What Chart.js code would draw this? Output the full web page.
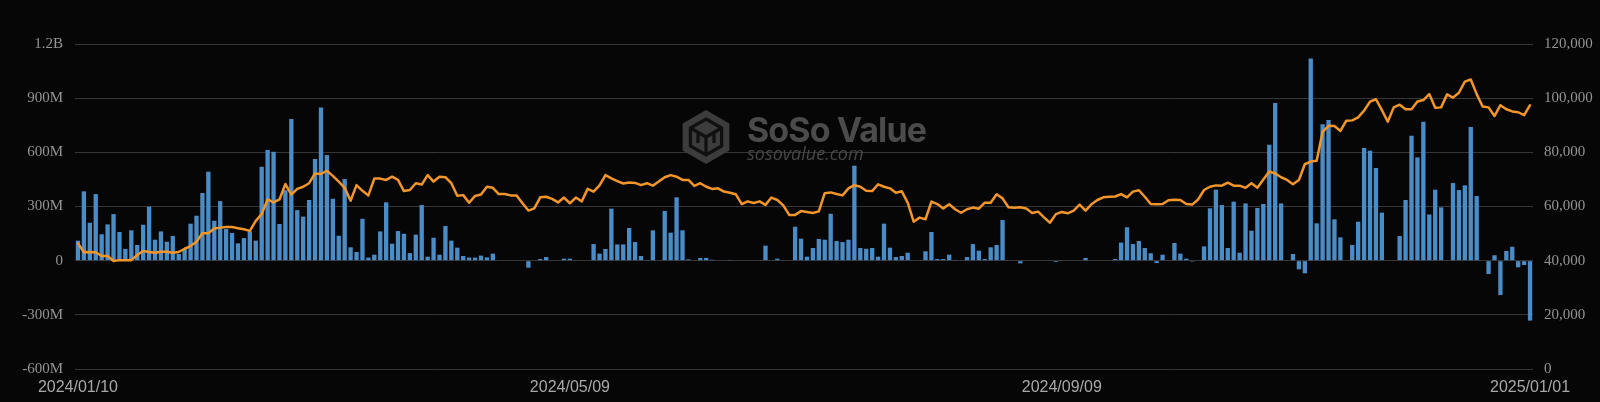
<!DOCTYPE html>
<html><head><meta charset="utf-8">
<script src="https://cdn.jsdelivr.net/npm/chart.js@4.4.1/dist/chart.umd.min.js"></script>
<style>
html,body{margin:0;padding:0;background:#060606;}
#wrap{position:relative;width:1600px;height:402px;background:#060606;}
canvas{display:block;}
</style></head><body>
<div id="wrap"><canvas id="c" width="1600" height="402"></canvas></div>
<script>
// Daily net inflow (US$ millions), one value per trading day
const flows = [
111,384,210,369,146,201,258,159,65,168,
87,199,299,116,162,105,137,37,65,205,
249,375,493,221,330,175,153,96,125,162,
111,520,613,603,203,390,785,280,244,336,
563,849,585,343,138,452,74,48,232,17,
33,162,323,94,164,149,42,144,308,22,
127,33,192,111,72,26,17,17,28,18,
39,0,0,0,0,0,-39,0,9,20,
0,0,11,11,0,0,0,92,39,65,
288,90,90,181,103,26,4,168,0,275,
155,351,168,7,0,15,15,5,0,0,
4,0,0,0,0,0,83,0,11,0,
0,188,122,22,70,120,116,260,109,103,
116,526,70,66,70,22,205,72,20,26,
44,0,0,52,159,9,9,33,4,0,
20,92,55,9,74,87,225,0,0,-15,
0,0,0,0,0,-7,0,0,0,0,
15,0,0,0,0,9,100,185,92,109,
70,41,-13,33,0,98,39,11,-5,0,
79,290,393,308,70,327,44,317,166,292,
314,642,873,317,0,37,-48,-70,1120,207,
756,779,229,129,0,87,216,624,609,513,
266,0,0,137,336,692,572,769,256,393,
295,0,430,391,417,740,358,0,-74,30,
-190,54,77,-37,-24,-332
];
// BTC price (US$)
const prices = [
46400,43100,43200,43100,41700,41700,39900,40200,40200,40200,
42100,43600,43200,42900,43300,43300,42900,43200,44400,45400,
47000,50100,50100,51900,52200,52400,52400,52000,51600,51000,
54700,57200,62600,61500,62600,68300,64400,66500,67300,68600,
72200,72000,73200,71300,69200,66900,62100,67900,65800,64100,
70300,70300,69800,71000,69800,65700,66100,68600,68100,71600,
69200,71000,70800,68600,64000,64200,61400,63900,64400,67300,
66900,64600,64600,64100,64100,61200,58500,59300,63400,63600,
62800,61500,63300,61200,63300,61900,66500,65500,67800,71600,
70400,69400,68500,68900,68700,67900,68600,67700,69200,70800,
71600,71000,69800,69800,67600,68600,67300,66500,66700,65500,
65100,64500,60900,61900,61300,61900,60600,63300,62400,60400,
56900,56900,58300,58000,57600,58200,64900,65200,64600,64100,
66700,67900,67300,65800,65700,68200,67300,66700,65100,65600,
61400,54400,55900,55300,61800,60900,59300,60800,59000,57700,
59000,59600,59200,61400,61400,64500,63000,59700,59500,59700,
59300,57600,58100,56000,54000,57200,58000,57500,58500,60700,
58500,60800,62400,63400,63600,63700,64600,63400,65500,66000,
63600,60900,60800,60900,62300,62500,62400,60900,60700,62600,
66100,67300,67800,67700,68800,67700,67700,66900,68600,66900,
70000,72900,72200,70800,69800,68200,69800,75600,76600,76900,
87600,89800,89700,87900,91700,91800,92900,95400,98700,99600,
95600,91300,96600,97600,95900,95900,98800,99300,101500,96500,
96600,101400,100200,102000,106100,106900,101500,96900,96600,93400,
97400,95900,95100,94800,93700,97400
];
// x-axis tick labels shown and the category positions they sit at
const tickIndex = [0, 83, 166, 245];
const tickLabels = ['2024/01/10', '2024/05/09', '2024/09/09', '2025/01/01'];
const holidays = ['2024-01-15','2024-02-19','2024-03-29','2024-05-27','2024-06-19','2024-07-04','2024-09-02','2024-11-28','2024-12-25'];

// categories: trading days from the first date
const categories = [];
{
  const d = new Date(Date.UTC(2024, 0, 10));
  while (categories.length < flows.length) {
    const iso = d.toISOString().slice(0, 10);
    const wd = d.getUTCDay();
    if (wd !== 0 && wd !== 6 && !holidays.includes(iso)) categories.push(iso.replace(/-/g, '/'));
    d.setUTCDate(d.getUTCDate() + 1);
  }
}

function fmtFlow(v) {
  if (v === 0) return '0';
  if (Math.abs(v) >= 1000) return (v / 1000) + 'B';
  return v + 'M';
}

const watermark = {
  id: 'watermark',
  beforeDatasetsDraw(chart) {
    const ctx = chart.ctx;
    ctx.save();
    const cx = 706, cy = 137, r = 27;
    const hex = (rad) => {
      ctx.beginPath();
      for (let i = 0; i < 6; i++) {
        const a = Math.PI / 180 * (60 * i - 90);
        const px = cx + rad * Math.cos(a), py = cy + rad * Math.sin(a);
        if (i) ctx.lineTo(px, py); else ctx.moveTo(px, py);
      }
      ctx.closePath();
    };
    hex(r); ctx.fillStyle = '#3c3c3c'; ctx.fill();
    ctx.strokeStyle = '#101010'; ctx.lineWidth = 3.2; ctx.lineJoin = 'miter';
    hex(18); ctx.stroke();
    ctx.beginPath();
    ctx.moveTo(cx, cy); ctx.lineTo(cx, cy + 18);
    ctx.moveTo(cx, cy); ctx.lineTo(cx - 15.6, cy - 9);
    ctx.moveTo(cx, cy); ctx.lineTo(cx + 15.6, cy - 9);
    ctx.moveTo(cx - 8, cy - 4.5); ctx.lineTo(cx - 8, cy + 6);
    ctx.moveTo(cx + 8, cy - 4.5); ctx.lineTo(cx + 8, cy + 6);
    ctx.stroke();
    ctx.fillStyle = '#4b4b4b';
    ctx.textBaseline = 'alphabetic';
    ctx.textAlign = 'left';
    ctx.font = 'bold 34px Inter';
    const w = ctx.measureText('SoSo Value').width;
    try { ctx.letterSpacing = ((179 - w) / 10).toFixed(2) + 'px'; } catch (e) {}
    ctx.fillText('SoSo Value', 747, 141.5);
    try { ctx.letterSpacing = '0px'; } catch (e) {}
    ctx.fillStyle = '#474747';
    ctx.font = 'italic 18px "Open Sans"';
    ctx.fillText('sosovalue.com', 747, 160);
    ctx.restore();
  }
};

new Chart(document.getElementById('c'), {
  data: {
    labels: categories,
    datasets: [
      {
        type: 'line', label: 'BTC Price', data: prices, yAxisID: 'y1',
        borderColor: '#f2952b', borderWidth: 2.5, pointRadius: 0, tension: 0, order: 0,
        borderJoinStyle: 'round', borderCapStyle: 'round'
      },
      {
        type: 'bar', label: 'Daily Total Net Inflow', data: flows, yAxisID: 'y',
        backgroundColor: '#4a8cc6', borderWidth: 0, categoryPercentage: 1, barPercentage: 0.73, order: 1
      }
    ]
  },
  plugins: [watermark],
  options: {
    responsive: false, animation: false, devicePixelRatio: 1,
    layout: { padding: { top: 44, left: 0, right: 0, bottom: 0 } },
    plugins: { legend: { display: false }, tooltip: { enabled: false } },
    scales: {
      x: {
        type: 'category', offset: true,
        grid: { display: false, drawTicks: false }, border: { display: false },
        ticks: {
          autoSkip: false, maxRotation: 0, minRotation: 0, padding: 9,
          color: '#a8a8a8', font: { family: 'Liberation Sans', size: 16 },
          callback(v, i) { const k = tickIndex.indexOf(i); return k >= 0 ? tickLabels[k] : ''; }
        },
        afterFit(s) { s.height = 33; }
      },
      y: {
        position: 'left', min: -600, max: 1200,
        grid: { color: '#363636', lineWidth: 1, drawTicks: false }, border: { display: false },
        ticks: { stepSize: 300, padding: 12, color: '#949494', font: { family: 'Liberation Serif', size: 15 }, callback: fmtFlow },
        afterFit(s) { s.width = 75; }
      },
      y1: {
        position: 'right', min: 0, max: 120000,
        grid: { drawOnChartArea: false, drawTicks: false }, border: { display: false },
        ticks: { stepSize: 20000, padding: 11, color: '#949494', font: { family: 'Liberation Serif', size: 15 },
          callback: (v) => v.toLocaleString('en-US') },
        afterFit(s) { s.width = 67; }
      }
    }
  }
});
</script></body></html>
